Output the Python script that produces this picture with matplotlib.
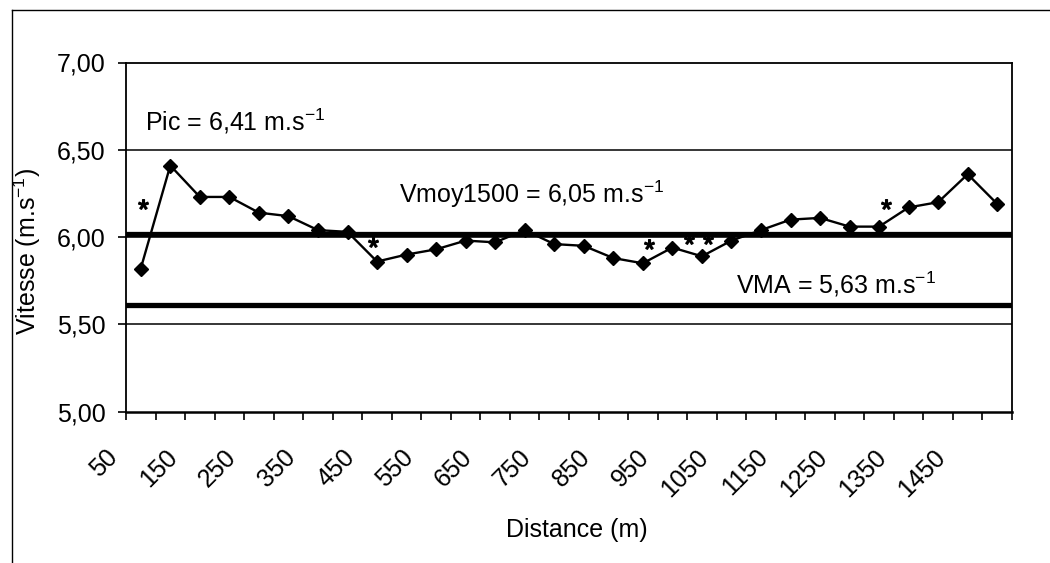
import matplotlib
matplotlib.use("Agg")
import matplotlib.pyplot as plt
import numpy as np
from matplotlib.lines import Line2D
from matplotlib.transforms import ScaledTranslation

plt.rcParams["font.family"] = ["Liberation Sans", "DejaVu Sans"]
plt.rcParams["mathtext.fontset"] = "custom"
plt.rcParams["mathtext.rm"] = "Liberation Sans"
plt.rcParams["mathtext.it"] = "Liberation Sans:italic"

# distances (m) et vitesses (m.s-1)
distances = list(range(50, 1501, 50))
vitesses = [5.82, 6.41, 6.23, 6.23, 6.14, 6.12, 6.04, 6.03, 5.86, 5.90,
            5.93, 5.98, 5.97, 6.04, 5.96, 5.95, 5.88, 5.85, 5.94, 5.89,
            5.98, 6.04, 6.10, 6.11, 6.06, 6.06, 6.17, 6.20, 6.36, 6.19]

# lignes de référence
vmoy_ligne = 6.02
vma_ligne = 5.61

# astérisques (position en catégorie, vitesse)
etoiles_x = [0.08, 7.85, 17.2, 18.55, 19.2, 25.25]
etoiles_y = [6.19, 5.97, 5.96, 5.99, 5.99, 6.19]

yticks = [5.00, 5.50, 6.00, 6.50, 7.00]

fs = 18
fig = plt.figure(figsize=(10.5, 5.63), dpi=100)
ax = fig.add_axes([126 / 1050, 1 - 411.7 / 563, (1012 - 126) / 1050, (411.7 - 62.5) / 563])

x = np.arange(len(distances))
ax.set_xlim(-0.5, len(distances) - 0.5)
ax.set_ylim(5, 7)

# grille horizontale
for yv in [5.5, 6.0, 6.5]:
    ax.axhline(yv, color="black", lw=1.1, zorder=1)

ax.axhline(vmoy_ligne, color="black", lw=3.8, zorder=2)
ax.axhline(vma_ligne, color="black", lw=3.8, zorder=2)

ax.plot(x, vitesses, color="black", lw=1.7, marker="D", ms=7.5, zorder=3)
ax.plot(etoiles_x, etoiles_y, ls="none", marker="$*$", ms=7, color="black", zorder=3)

ax.text(0.15, 6.665, "Pic = 6,41 m.s$^{\\mathrm{-1}}$", fontsize=fs, va="center", ha="left")
ax.text(8.75, 6.245, "Vmoy1500 = 6,05 m.s$^{\\mathrm{-1}}$", fontsize=fs, va="center", ha="left")
ax.text(20.15, 5.73, "VMA = 5,63 m.s$^{\\mathrm{-1}}$", fontsize=fs, va="center", ha="left")

# axes
ax.set_yticks(yticks)
ax.set_yticklabels([f"{v:.2f}".replace(".", ",") for v in yticks], fontsize=fs)
ax.tick_params(axis="y", length=5.5, width=1.2, pad=9, direction="out")

ax.set_xticks(x[::2])
ax.set_xticklabels([str(d) for d in distances[::2]], fontsize=fs, rotation=45, ha="right")
ax.set_xticks(np.arange(-0.5, len(distances)), minor=True)
ax.tick_params(axis="x", which="major", length=0, pad=24)
ax.tick_params(axis="x", which="minor", length=5.5, width=1.2, direction="out")
for lab in ax.get_xticklabels():
    lab.set_transform(lab.get_transform() + ScaledTranslation(-0.18, 0, fig.dpi_scale_trans))

for s in ["top", "right", "left"]:
    ax.spines[s].set_linewidth(1.3)
ax.spines["bottom"].set_linewidth(1.8)

ax.set_ylabel("Vitesse (m.s$^{\\mathrm{-1}}$)", fontsize=fs)
ax.yaxis.set_label_coords(-0.094, 0.46)
ax.set_xlabel("Distance (m)", fontsize=fs)
ax.xaxis.set_label_coords(0.509, -0.305)

# cadre extérieur
fig.add_artist(Line2D([12 / 1050, 12 / 1050], [0, 1 - 10 / 563], color="black", lw=1.0))
fig.add_artist(Line2D([12 / 1050, 1], [1 - 10 / 563, 1 - 10 / 563], color="black", lw=1.0))

fig.savefig("out.png", dpi=100)
